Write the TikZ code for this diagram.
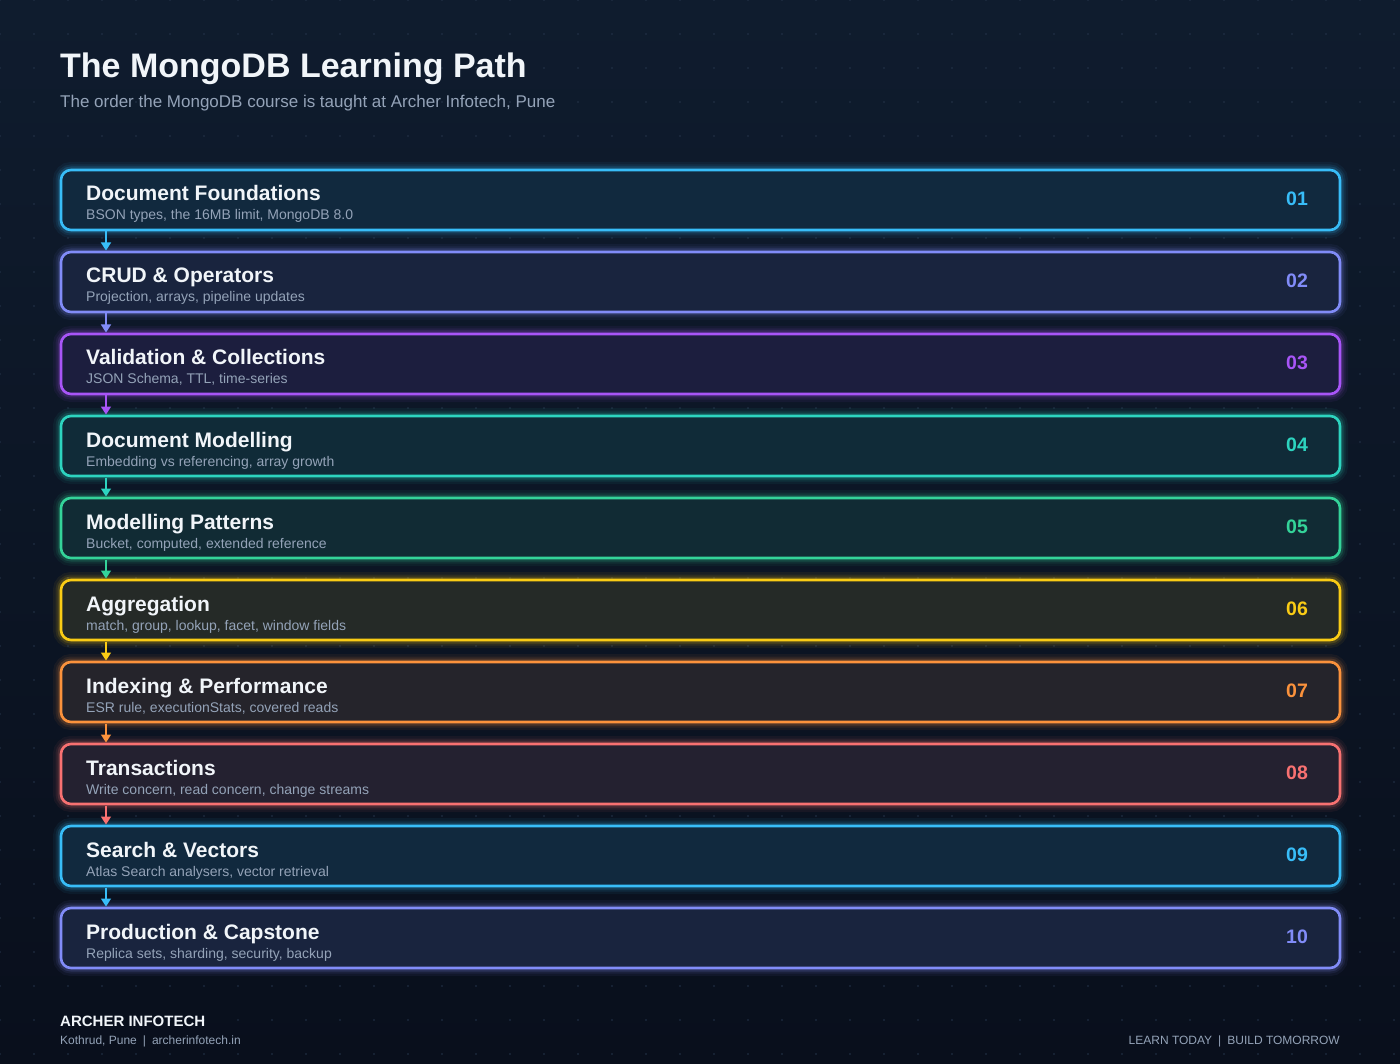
\documentclass[tikz,border=0pt]{standalone}
\usepackage{fontspec}
\setmainfont{Liberation Sans}
\usetikzlibrary{arrows.meta,calc}
\definecolor{bgtop}{HTML}{0F1C2E}
\definecolor{bgbot}{HTML}{090F1C}
\definecolor{bgbase}{HTML}{0D1829}
\definecolor{dotc}{HTML}{25344A}
\definecolor{txtmain}{HTML}{F1F5F9}
\definecolor{txtsub}{HTML}{94A3B8}
\definecolor{cSky}{HTML}{38BDF8}
\definecolor{cIndigo}{HTML}{818CF8}
\definecolor{cPurple}{HTML}{A855F7}
\definecolor{cTeal}{HTML}{2DD4BF}
\definecolor{cEmerald}{HTML}{34D399}
\definecolor{cYellow}{HTML}{FACC15}
\definecolor{cOrange}{HTML}{FB923C}
\definecolor{cRed}{HTML}{F87171}
\tikzset{
  stagebox/.style={rectangle, rounded corners=10pt, minimum width=1279pt, minimum height=60pt,
    inner sep=0pt, outer sep=0pt, line width=2.6pt, draw=#1, fill=#1!10!bgbase,
    preaction={draw=#1, line width=16pt, draw opacity=0.06},
    preaction={draw=#1, line width=11pt, draw opacity=0.09},
    preaction={draw=#1, line width=7pt, draw opacity=0.16}},
  stagetitle/.style={anchor=base west, inner sep=0pt, text=txtmain, font=\fontsize{21}{25}\selectfont\bfseries},
  stagesub/.style={anchor=base west, inner sep=0pt, text=txtsub, font=\fontsize{14}{17}\selectfont},
  stagenum/.style={anchor=center, inner sep=0pt, text=#1, font=\fontsize{19.5}{23}\selectfont\bfseries},
  flow/.style={draw=#1, line width=1.6pt, -{Triangle[width=10pt,length=8pt]}, fill=#1}
}
\begin{document}
\begin{tikzpicture}[x=1pt,y=-1pt]
\useasboundingbox (0,0) rectangle (1400,1064);
\shade[top color=bgtop, bottom color=bgbot] (0,0) rectangle (1400,1064);
\foreach \xx in {0,34,...,1394} {
  \foreach \yy in {0,34,...,1054} {
    \fill[dotc] (\xx,\yy) circle (0.8pt);
  }
}
% header
\node[anchor=base west, inner sep=0pt, text=txtmain, font=\fontsize{34}{40}\selectfont\bfseries] (title) at (60,78) {The MongoDB Learning Path};
\node[anchor=base west, inner sep=0pt, text=txtsub, font=\fontsize{17}{20}\selectfont] (subtitle) at (60,108) {The order the MongoDB course is taught at Archer Infotech, Pune};
% stages
\foreach \i/\col/\ttl/\sub/\num in {
  1/cSky/Document Foundations/{BSON types, the 16MB limit, MongoDB 8.0}/01,
  2/cIndigo/CRUD \& Operators/{Projection, arrays, pipeline updates}/02,
  3/cPurple/Validation \& Collections/{JSON Schema, TTL, time-series}/03,
  4/cTeal/Document Modelling/{Embedding vs referencing, array growth}/04,
  5/cEmerald/Modelling Patterns/{Bucket, computed, extended reference}/05,
  6/cYellow/Aggregation/{match, group, lookup, facet, window fields}/06,
  7/cOrange/Indexing \& Performance/{ESR rule, executionStats, covered reads}/07,
  8/cRed/Transactions/{Write concern, read concern, change streams}/08,
  9/cSky/Search \& Vectors/{Atlas Search analysers, vector retrieval}/09,
  10/cIndigo/Production \& Capstone/{Replica sets, sharding, security, backup}/10} {
  \node[stagebox=\col] (b\i) at (700.5,{200+82*(\i-1)}) {};
  \node[stagetitle] (t\i) at ($(b\i.north west)+(25,31)$) {\ttl};
  \node[stagesub] (s\i) at ($(b\i.north west)+(25,50)$) {\sub};
  \node[stagenum=\col] (n\i) at ($(b\i.east)+(-43,-1.5)$) {\num};
}
% connectors
\foreach \i/\j/\col in {1/2/cSky,2/3/cIndigo,3/4/cPurple,4/5/cTeal,5/6/cEmerald,6/7/cYellow,7/8/cOrange,8/9/cRed,9/10/cSky} {
  \coordinate (a\i) at ($(b\i.south west)+(45,1.5)$);
  \coordinate (e\i) at ($(b\j.north west)+(45,-1.5)$);
  \draw[flow=\col] (a\i) -- (e\i);
}
% footer
\node[anchor=base west, inner sep=0pt, text=txtmain, font=\fontsize{15}{18}\selectfont\bfseries] (brand) at (60,1026) {ARCHER INFOTECH};
\node[anchor=base west, inner sep=0pt, text=txtsub, font=\fontsize{12}{14}\selectfont] (loc) at (60,1044) {Kothrud, Pune\enspace|\enspace archerinfotech.in};
\node[anchor=base east, inner sep=0pt, text=txtsub, font=\fontsize{12}{15}\selectfont] (tag) at (1340,1044) {LEARN TODAY\enspace|\enspace BUILD TOMORROW};
\end{tikzpicture}
\end{document}
